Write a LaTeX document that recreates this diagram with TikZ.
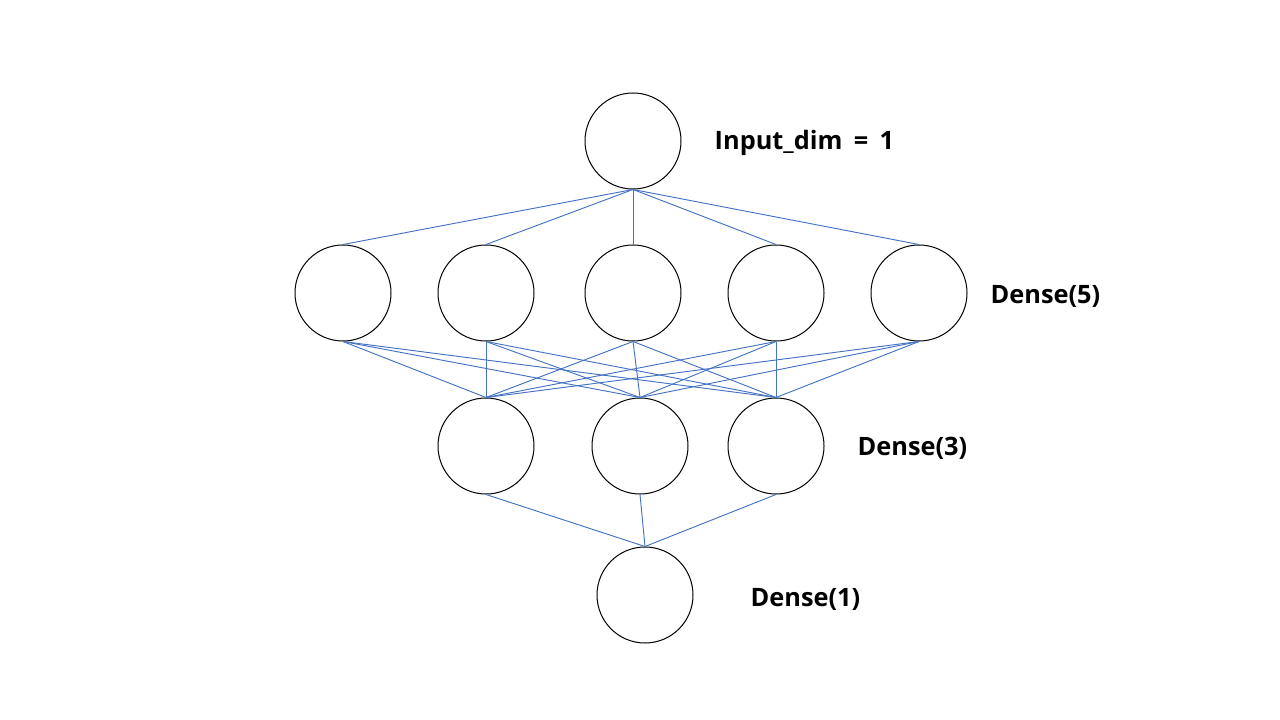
\documentclass[tikz,border=0pt]{standalone}
\usepackage{fontspec}
\setmainfont{Open Sans}
\definecolor{linkblue}{HTML}{4472C4}
\tikzset{
  neuron/.style={draw, circle, line width=0.75pt, minimum size=72pt, inner sep=0pt},
  link/.style={draw=linkblue, line width=0.7pt},
  layername/.style={anchor=west, font=\fontsize{19}{23}\selectfont\bfseries}
}
\begin{document}
\begin{tikzpicture}[x=0.75pt, y=-0.75pt]
        \useasboundingbox (0,0) rectangle (1280,720);

        % Entrada
        \node[neuron] (in) at (633,141) {};
        \node[layername] (inlabel) at (710,143) {Input\_dim\hspace{0.45em}=\hspace{0.45em}1};

        % Dense(5)
        \node[neuron] (a1) at (343,293) {};
        \node[neuron] (a2) at (486,293) {};
        \node[neuron] (a3) at (633,293) {};
        \node[neuron] (a4) at (776,293) {};
        \node[neuron] (a5) at (919,293) {};
        \node[layername] (alabel) at (986,296) {Dense(5)};

        % Dense(3)
        \node[neuron] (b1) at (486,446) {};
        \node[neuron] (b2) at (640,446) {};
        \node[neuron] (b3) at (776,446) {};
        \node[layername] (blabel) at (853,448) {Dense(3)};

        % Dense(1)
        \node[neuron] (c1) at (645,595) {};
        \node[layername] (clabel) at (746,599) {Dense(1)};

        % Ligações
        \foreach \a in {a1,a2,a3,a4,a5}
            \draw[link] (in.south) -- (\a.north);
        \foreach \a in {a1,a2,a3,a4,a5}
            \foreach \b in {b1,b2,b3}
                \draw[link] (\a.south) -- (\b.north);
        \foreach \b in {b1,b2,b3}
            \draw[link] (\b.south) -- (c1.north);
    \end{tikzpicture}
\end{document}
